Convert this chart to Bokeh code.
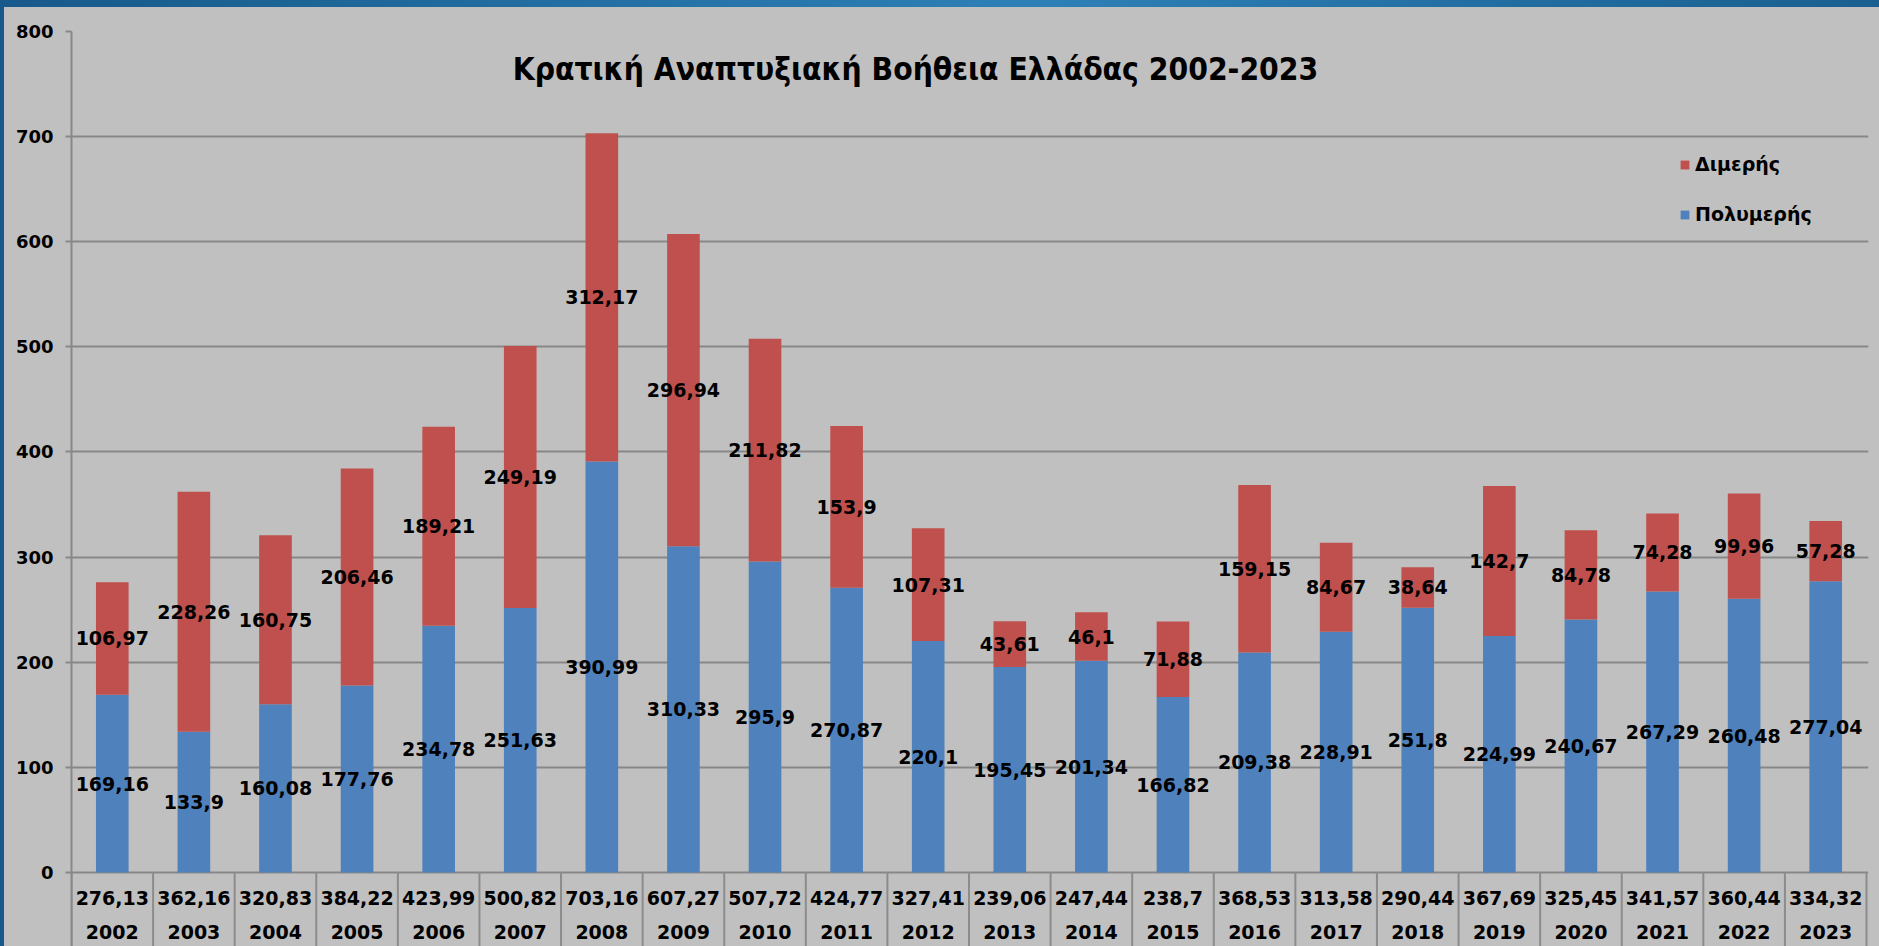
from bokeh.plotting import figure
from bokeh.models import (ColumnDataSource, Range1d, FixedTicker, Legend, LegendItem, Label)
from bokeh.core.properties import value
from bokeh.embed import file_html
from bokeh.resources import INLINE

# ---------------- data ----------------
years = [str(y) for y in range(2002, 2024)]
poly = [169.16, 133.9, 160.08, 177.76, 234.78, 251.63, 390.99, 310.33, 295.9, 270.87, 220.1,
        195.45, 201.34, 166.82, 209.38, 228.91, 251.8, 224.99, 240.67, 267.29, 260.48, 277.04]
dimer = [106.97, 228.26, 160.75, 206.46, 189.21, 249.19, 312.17, 296.94, 211.82, 153.9, 107.31,
         43.61, 46.1, 71.88, 159.15, 84.67, 38.64, 142.7, 84.78, 74.28, 99.96, 57.28]
totals = [276.13, 362.16, 320.83, 384.22, 423.99, 500.82, 703.16, 607.27, 507.72, 424.77, 327.41,
          239.06, 247.44, 238.7, 368.53, 313.58, 290.44, 367.69, 325.45, 341.57, 360.44, 334.32]
series_names = ["Πολυμερής", "Διμερής"]
title_text = "Κρατική Αναπτυξιακή Βοήθεια Ελλάδας 2002-2023"
y_ticks = [0, 100, 200, 300, 400, 500, 600, 700, 800]

BLUE = "#4F81BD"
RED = "#C0504D"
BG = "#C0C0C0"
GRID = "#878787"
FONT = "DejaVu Sans"

# layout constants (the category "table" sits below the value axis' zero line)
TABLE_BOTTOM = -70.4
ROW_TOTAL = -23.8
ROW_YEAR = -56.3


def fmt(v):
    return f"{v}".replace(".", ",")


n = len(years)
idx = list(range(n))  # category slots
bounds = [i - 0.5 for i in range(n + 1)]
pad = 2 / (1795 / n)

src = ColumnDataSource(dict(
    x=idx,
    poly=poly,
    dimer=dimer,
    poly_mid=[a / 2 for a in poly],
    dimer_mid=[a + b / 2 for a, b in zip(poly, dimer)],
    poly_lbl=[fmt(v) for v in poly],
    dimer_lbl=[fmt(v) for v in dimer],
    tot_lbl=[fmt(v) for v in totals],
    year=years,
    row_tot=[ROW_TOTAL] * n,
    row_year=[ROW_YEAR] * n,
))

p = figure(x_range=Range1d(-0.5, n - 0.5 + pad), y_range=Range1d(TABLE_BOTTOM, 800),
           width=1875, height=938,
           output_backend="svg", toolbar_location=None,
           x_axis_location=None, y_axis_location="left",
           min_border_left=67, min_border_right=11, min_border_top=23, min_border_bottom=0,
           background_fill_color=BG, border_fill_color=BG, outline_line_color=None)

p.yaxis.ticker = FixedTicker(ticks=y_ticks)
p.yaxis.major_tick_in = 0
p.yaxis.major_tick_out = 6
p.yaxis.major_tick_line_color = GRID
p.yaxis.major_tick_line_width = 2
p.yaxis.minor_tick_line_color = None
p.yaxis.axis_line_color = GRID
p.yaxis.axis_line_width = 2
p.yaxis.major_label_standoff = 12
p.yaxis.major_label_text_font = FONT
p.yaxis.major_label_text_font_style = "bold"
p.yaxis.major_label_text_font_size = "18px"
p.yaxis.major_label_text_color = "black"

p.ygrid.grid_line_color = GRID
p.ygrid.grid_line_width = 2
p.xgrid.visible = False

# stacked bars
rs = p.vbar_stack(["poly", "dimer"], x="x", width=0.4, color=[BLUE, RED],
                  line_color=None, source=src)

# data labels in the middle of each segment
for col, lbl in (("poly_mid", "poly_lbl"), ("dimer_mid", "dimer_lbl")):
    p.text(x="x", y=col, text=lbl, source=src,
           text_font=value(FONT), text_font_style="bold", text_font_size="19px",
           text_color="black", text_align="center", text_baseline="middle")

# category table: dividers, totals row, years row
p.segment(x0=bounds, y0=[0] * len(bounds), x1=bounds, y1=[TABLE_BOTTOM] * len(bounds),
          line_color="#8c8c8c", line_width=2)
for row, lbl in (("row_tot", "tot_lbl"), ("row_year", "year")):
    p.text(x="x", y=row, text=lbl, source=src,
           text_font=value(FONT), text_font_style="bold", text_font_size="19px",
           text_color="black", text_align="center", text_baseline="middle")

# title inside the plot area
p.add_layout(Label(x=844, y=878, x_units="screen", y_units="screen", text=title_text,
                   text_align="center", text_baseline="middle",
                   text_font="Liberation Sans Narrow, DejaVu Sans Condensed, sans-serif",
                   text_font_style="bold", text_font_size="31.5px", text_color="black"))

legend = Legend(items=[LegendItem(label=series_names[1], renderers=[rs[1]]),
                       LegendItem(label=series_names[0], renderers=[rs[0]])],
                location=(1608, 721), orientation="vertical",
                glyph_width=11, glyph_height=11, label_height=20, spacing=28,
                label_standoff=5, padding=0, margin=0,
                border_line_color=None, background_fill_alpha=0,
                label_text_font=FONT, label_text_font_style="bold",
                label_text_font_size="19px", label_text_color="black")
p.add_layout(legend)

html = file_html(p, INLINE, title="Κρατική Αναπτυξιακή Βοήθεια Ελλάδας 2002-2023")
css = ("<style>body{padding:8px 0 0 4px !important;margin:0 !important;"
       "background:linear-gradient(90deg,#17598a,#2d80b6 55%,#1a5f90) top left/100% 7px no-repeat,"
       "linear-gradient(#17598a,#17598a) top left/4px 100% no-repeat,#C0C0C0 !important;}</style>")
html = html.replace("</head>", css + "</head>", 1)
open("out.html", "w").write(html)
